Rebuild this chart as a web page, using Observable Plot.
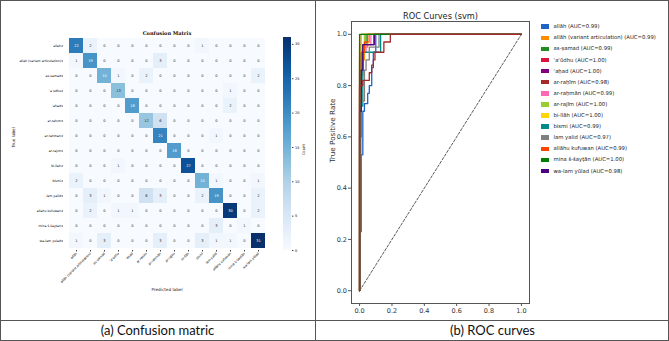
<!DOCTYPE html>
<html>
<head>
<meta charset="utf-8">
<script src="https://cdn.jsdelivr.net/npm/d3@7"></script>
<script src="https://cdn.jsdelivr.net/npm/@observablehq/plot@0.6"></script>
<style>
  body { margin: 0; background: #fff; }
  #fig { position: relative; width: 669px; height: 341px; background: #fff; overflow: hidden; }
  .abs { position: absolute; }
  .caption { position: absolute; top: 321px; height: 19px; line-height: 19px; text-align: center;
             font-family: Lato, "Liberation Sans", sans-serif; font-size: 13px; color: #111; }
  .leg { position: absolute; left: 541px; font-family: "DejaVu Sans", sans-serif; font-size: 5.3px; color: #222; white-space: nowrap; }
  .leg i { display: inline-block; width: 8px; height: 4.5px; vertical-align: middle; margin-right: 4.5px; }
</style>
</head>
<body>
<div id="fig">
  <div id="cm" class="abs" style="left:0;top:0"></div>
  <div id="cbar" class="abs" style="left:250px;top:0"></div>
  <div id="roc" class="abs" style="left:315px;top:0"></div>
  <div id="legend"></div>
  <div class="abs" style="left:0;top:0;width:667px;height:339px;border:1px solid #555"></div>
  <div class="abs" style="left:315px;top:0;width:1px;height:341px;background:#555"></div>
  <div class="abs" style="left:0;top:320px;width:669px;height:1px;background:#555"></div>
  <div class="caption" style="left:0;width:315px">(a) Confusion matric</div>
  <div class="caption" style="left:316px;width:353px">(b) ROC curves</div>
</div>
<script>
// Class names (same order on both axes of the matrix and in the ROC legend)
const classes = [
  "allāh", "allāh (variant articulation)", "as-ṣamad", "ʿaʿūdhu", "ʿaḥad",
  "ar-raḥīm", "ar-raḥmān", "ar-rajīm", "bi-llāh", "bismi",
  "lam yalid", "allāhu kufuwan", "mina š-šayṭān", "wa-lam yūlad"
];

// Confusion matrix counts: one row per true label, columns are predicted labels
const countsAllah     = [22, 2, 0, 0, 0, 0, 0, 0, 0, 1, 0, 0, 0, 0];
const countsAllahVar  = [1, 19, 0, 0, 0, 0, 3, 0, 0, 0, 0, 0, 0, 0];
const countsSamad     = [0, 0, 15, 1, 0, 2, 0, 0, 0, 0, 0, 0, 0, 2];
const countsAudhu     = [0, 0, 0, 13, 0, 0, 0, 0, 0, 0, 0, 1, 0, 0];
const countsAhad      = [0, 0, 0, 0, 18, 0, 0, 0, 0, 0, 0, 2, 0, 0];
const countsRahim     = [0, 0, 0, 0, 0, 12, 6, 0, 0, 0, 0, 0, 0, 0];
const countsRahman    = [0, 0, 0, 0, 0, 0, 21, 0, 0, 0, 1, 0, 0, 0];
const countsRajim     = [0, 0, 0, 0, 0, 0, 0, 18, 0, 0, 0, 0, 0, 0];
const countsBillah    = [0, 0, 0, 1, 0, 0, 0, 0, 27, 0, 0, 0, 0, 0];
const countsBismi     = [2, 0, 0, 0, 0, 0, 0, 0, 0, 15, 1, 0, 0, 1];
const countsLamYalid  = [0, 3, 1, 0, 0, 6, 3, 0, 0, 2, 19, 0, 0, 2];
const countsKufuwan   = [0, 2, 0, 1, 1, 0, 0, 0, 0, 0, 0, 30, 0, 2];
const countsMina      = [0, 0, 0, 0, 0, 0, 0, 0, 0, 0, 3, 0, 1, 0];
const countsWaLam     = [1, 0, 3, 0, 0, 0, 3, 0, 0, 3, 1, 1, 0, 31];
const countRows = [countsAllah, countsAllahVar, countsSamad, countsAudhu, countsAhad,
  countsRahim, countsRahman, countsRajim, countsBillah, countsBismi,
  countsLamYalid, countsKufuwan, countsMina, countsWaLam];
const colorbarTicks = [0, 5, 10, 15, 20, 25, 30];
const countMax = 31;

// ROC operating points [false positive rate, true positive rate] per class (svm)
const rocAllah    = [[0,0],[0,0.23],[0.01,0.53],[0.02,0.70],[0.03,0.73],[0.05,0.77],[0.06,0.80],[0.075,0.87],[0.085,0.93],[0.10,1],[1,1]];
const rocAllahVar = [[0,0],[0,0.78],[0.01,0.84],[0.02,0.90],[0.03,0.95],[0.05,0.97],[0.06,1],[1,1]];
const rocSamad    = [[0,0],[0,0.74],[0.01,0.90],[0.02,0.96],[0.04,1],[1,1]];
const rocAudhu    = [[0,0],[0,0.96],[0.01,1],[1,1]];
const rocAhad     = [[0,0],[0,0.90],[0.01,0.96],[0.09,1],[1,1]];
const rocRahim    = [[0,0],[0,0.80],[0.02,0.82],[0.06,0.85],[0.075,0.88],[0.085,0.90],[0.095,0.93],[0.15,0.97],[0.19,1],[1,1]];
const rocRahman   = [[0,0],[0,0.85],[0.02,0.93],[0.04,0.96],[0.07,1],[1,1]];
const rocRajim    = [[0,0],[0,0.90],[0.01,0.96],[0.03,1],[1,1]];
const rocBillah   = [[0,0],[0,0.93],[0.01,1],[1,1]];
const rocBismi    = [[0,0],[0,0.60],[0.01,0.72],[0.02,0.93],[0.13,1],[1,1]];
const rocLamYalid = [[0,0],[0,0.50],[0.008,0.74],[0.03,0.86],[0.04,0.90],[0.06,0.95],[0.12,1],[1,1]];
const rocKufuwan  = [[0,0],[0,0.80],[0.01,0.93],[0.03,0.97],[0.05,1],[1,1]];
const rocMina     = [[0,0],[0,1],[1,1]];
const rocWaLam    = [[0,0],[0,0.70],[0.01,0.86],[0.02,0.96],[0.09,1],[1,1]];
const rocCurves = [rocAllah, rocAllahVar, rocSamad, rocAudhu, rocAhad, rocRahim, rocRahman,
  rocRajim, rocBillah, rocBismi, rocLamYalid, rocKufuwan, rocMina, rocWaLam];
const aucs = ["0.99", "0.99", "0.99", "1.00", "1.00", "0.98", "0.99", "1.00", "1.00", "0.99", "0.97", "0.99", "1.00", "0.98"];
const chance = [[0, 0], [1, 1]];
const rateTicks = [0, 0.2, 0.4, 0.6, 0.8, 1.0];

// Line colours, one per class
const palette = ["#1f63c6", "#ff8c00", "#228b22", "#dc143c", "#800080", "#a52a2a", "#ff69b4",
  "#9acd32", "#ffd700", "#008b8b", "#808080", "#ff4500", "#008000", "#4b0082"];
// Curves listed here are painted after the others
const paintLast = ["mina š-šayṭān", "ar-raḥīm"];

const font = "DejaVu Sans, sans-serif";
const blues = d3.scaleSequential([0, countMax], d3.interpolateBlues);

// ---- Confusion matrix heatmap ----
const cells = [];
countRows.forEach((row, i) => row.forEach((v, j) => cells.push({truth: classes[i], pred: classes[j], count: v})));

const cm = Plot.plot({
  width: 315, height: 320,
  marginLeft: 63, marginRight: 45, marginTop: 36, marginBottom: 70,
  style: {fontFamily: font, background: "transparent"},
  x: {domain: classes, padding: 0, label: null},
  y: {domain: classes, padding: 0, label: null},
  color: {type: "linear", domain: [0, countMax], scheme: "blues"},
  marks: [
    Plot.cell(cells, {x: "pred", y: "truth", fill: "count"}),
    Plot.text(cells, {x: "pred", y: "truth", text: "count", fontSize: 3.6,
      fill: d => d.count / countMax > 0.45 ? "white" : "#262626"}),
    Plot.axisX({tickRotate: -45, fontSize: 3.2, tickSize: 1.5, tickPadding: 1, label: null, stroke: "#444"}),
    Plot.axisY({fontSize: 3.2, tickSize: 1.5, tickPadding: 1, label: null, stroke: "#444"}),
    Plot.text(["Confusion Matrix"], {frameAnchor: "top", dy: -5.5, fontSize: 5, fontWeight: "bold", fontFamily: "DejaVu Serif, serif", fill: "#111"}),
    Plot.text(["Predicted label"], {frameAnchor: "bottom", dy: 40.5, fontSize: 4.2, fill: "#222"}),
    Plot.text(["True label"], {frameAnchor: "left", dx: -50, dy: 4, rotate: -90, fontSize: 4.2, fill: "#222"})
  ]
});
document.getElementById("cm").append(cm);

// ---- Colour bar for the counts ----
const bands = d3.range(0, countMax, 0.25).map(v => ({lo: v, hi: Math.min(v + 0.25, countMax)}));
const cbar = Plot.plot({
  width: 65, height: 320,
  marginLeft: 33, marginRight: 24, marginTop: 37, marginBottom: 70,
  style: {fontFamily: font, background: "transparent"},
  x: {domain: [0, 1], axis: null},
  y: {domain: [0, countMax], axis: null},
  color: {type: "linear", domain: [0, countMax], scheme: "blues"},
  marks: [
    Plot.rect(bands, {x1: 0, x2: 1, y1: "lo", y2: "hi", fill: d => (d.lo + d.hi) / 2, inset: 0, shapeRendering: "crispEdges"}),
    Plot.axisY(colorbarTicks, {anchor: "right", fontSize: 3.5, tickSize: 1.5, tickPadding: 2, label: null, stroke: "#444"}),
    Plot.text(["Count"], {frameAnchor: "right", dx: 12, rotate: -90, fontSize: 3.8, fill: "#222"})
  ]
});
document.getElementById("cbar").append(cbar);

// ---- ROC curves ----
const order = classes.map((c, i) => i)
  .sort((a, b) => paintLast.indexOf(classes[a]) - paintLast.indexOf(classes[b]));
const rocRows = [];
order.forEach(i => rocCurves[i].forEach(([fpr, tpr]) => rocRows.push({cls: classes[i], fpr, tpr})));

const roc = Plot.plot({
  width: 354, height: 320,
  marginLeft: 36, marginRight: 140, marginTop: 21, marginBottom: 17,
  style: {fontFamily: font, background: "transparent"},
  x: {domain: [-0.05, 1.05], label: null},
  y: {domain: [-0.05, 1.05], label: null},
  color: {domain: classes, range: palette},
  marks: [
    Plot.line(chance, {x: d => d[0], y: d => d[1], stroke: "#111", strokeWidth: 0.7, strokeDasharray: "2.5,1.8"}),
    Plot.line(rocRows, {x: "fpr", y: "tpr", z: "cls", stroke: "cls", curve: "step-after", strokeWidth: 1.3}),
    Plot.frame({stroke: "#555", strokeWidth: 1}),
    Plot.axisX(rateTicks, {tickFormat: d3.format(".1f"), fontSize: 6.5, tickSize: 3, tickPadding: 2, stroke: "#555", fill: "#333"}),
    Plot.axisY(rateTicks, {tickFormat: d3.format(".1f"), fontSize: 6.5, tickSize: 3, tickPadding: 1.5, stroke: "#555", fill: "#333"}),
    Plot.text(["ROC Curves (svm)"], {frameAnchor: "top", dy: -8.5, fontSize: 8.2, fill: "#222"}),
    Plot.text(["True Positive Rate"], {frameAnchor: "left", dx: -19, rotate: -90, fontSize: 7.2, fill: "#333"})
  ]
});
document.getElementById("roc").append(roc);

// Legend entries for the ROC curves
const legend = document.getElementById("legend");
classes.forEach((c, i) => {
  const row = document.createElement("div");
  row.className = "leg";
  row.style.top = (26.7 + i * 11.1 - 3.5) + "px";
  row.style.lineHeight = "7px";
  const sw = document.createElement("i");
  sw.style.background = palette[i];
  row.append(sw, document.createTextNode(`${c} (AUC=${aucs[i]})`));
  legend.append(row);
});
</script>
</body>
</html>
